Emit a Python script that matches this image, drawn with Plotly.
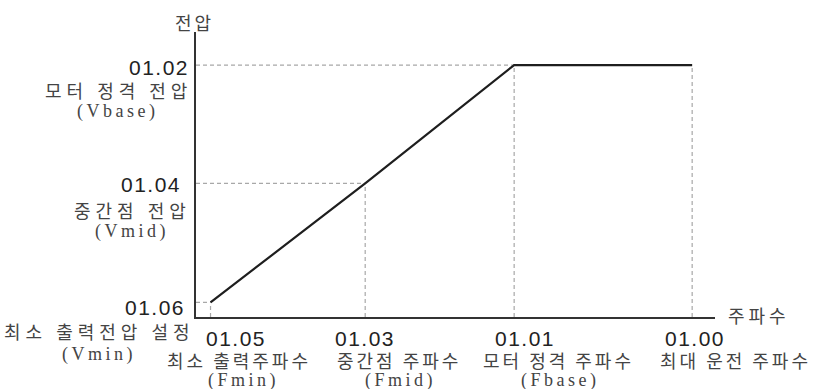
import plotly.graph_objects as go

# V/f curve break points (x: % of freq axis, y: % of voltage axis)
freq_points = [2.8, 32.6, 61.3, 95.6]      # Fmin, Fmid, Fbase, Fmax
volt_points = [5.1, 46.9, 88.4, 88.4]      # Vmin, Vmid, Vbase, Vbase

freq_codes = ["01.05", "01.03", "01.01", "01.00"]
freq_names = ["최소 출력주파수", "중간점 주파수", "모터 정격 주파수", "최대 운전 주파수"]
freq_abbr = ["(Fmin)", "(Fmid)", "(Fbase)", ""]

volt_levels = [88.4, 46.9, 5.1]            # Vbase, Vmid, Vmin
volt_codes = ["01.02", "01.04", "01.06"]
volt_names = ["모터 정격 전압", "중간점 전압", "최소 출력전압 설정"]
volt_abbr = ["(Vbase)", "(Vmid)", "(Vmin)"]

NUM_FONT = dict(family="Liberation Sans, Arial", size=21, color="#222222")
KR_FONT = dict(family="Noto Sans CJK KR", size=18, color="#444444")
SERIF_FONT = dict(family="Liberation Serif, Times New Roman", size=18, color="#444444")


def spaced(txt, px):
    return f'<span style="letter-spacing:{px}px">{txt}</span>'


fig = go.Figure()

# dashed guide lines
dash = dict(color="#a8a8a8", width=1.2, dash="4px,3px")
for f, v in zip(freq_points, volt_points):
    fig.add_trace(go.Scatter(x=[f, f], y=[0, v], mode="lines", line=dash,
                             hoverinfo="skip", showlegend=False))
for f, v in zip(freq_points[:3], volt_points[:3]):
    fig.add_trace(go.Scatter(x=[0, f], y=[v, v], mode="lines", line=dash,
                             hoverinfo="skip", showlegend=False))

# the V/f curve
fig.add_trace(go.Scatter(x=freq_points, y=volt_points, mode="lines",
                         line=dict(color="#1e1e1e", width=2.2),
                         showlegend=False))

anns = []
# frequency labels (below the x axis)
code_dx = [25, 0, 11, 3]
name_dx = [28, 33.5, 44.5, 43.5]
abbr_dx = [33, 35, 46, 0]
for i, f in enumerate(freq_points):
    anns.append(dict(x=f, xref="x", y=0, yref="paper", text=spaced(freq_codes[i], 1.5),
                     font=NUM_FONT, xshift=code_dx[i], yshift=-21, yanchor="middle"))
    anns.append(dict(x=f, xref="x", y=0, yref="paper", text=spaced(freq_names[i], 3),
                     font=KR_FONT, xshift=name_dx[i], yshift=-43, yanchor="middle"))
    if freq_abbr[i]:
        anns.append(dict(x=f, xref="x", y=0, yref="paper", text=spaced(freq_abbr[i], 3.5),
                         font=SERIF_FONT, xshift=abbr_dx[i], yshift=-63, yanchor="middle"))

# voltage labels (left of the y axis)
code_dx = [-5, -13, -9]
code_dy = [-2.5, -1, -5.5]
name_dx = [-78, -64, -97]
name_dy = [-25, -27, -28.5]
abbr_dx = [-79, -64.5, -97.5]
abbr_dy = [-46, -48, -52.5]
for i, v in enumerate(volt_levels):
    anns.append(dict(x=0, xref="paper", y=v, yref="y", text=spaced(volt_codes[i], 1.5),
                     font=NUM_FONT, xanchor="right", xshift=code_dx[i], yshift=code_dy[i],
                     yanchor="middle"))
    anns.append(dict(x=0, xref="paper", y=v, yref="y", text=spaced(volt_names[i], 5),
                     font=KR_FONT, xanchor="center", xshift=name_dx[i], yshift=name_dy[i],
                     yanchor="middle"))
    anns.append(dict(x=0, xref="paper", y=v, yref="y", text=spaced(volt_abbr[i], 3.5),
                     font=SERIF_FONT, xanchor="center", xshift=abbr_dx[i], yshift=abbr_dy[i],
                     yanchor="middle"))

# axis names
anns.append(dict(x=0, xref="paper", y=1, yref="paper", text=spaced("전압", 3), font=KR_FONT,
                 xanchor="center", xshift=-2, yanchor="middle", yshift=10))
anns.append(dict(x=1, xref="paper", y=0, yref="paper", text=spaced("주파수", 4), font=KR_FONT,
                 xanchor="left", xshift=11, yanchor="middle", yshift=2))

for a in anns:
    a["showarrow"] = False

fig.update_layout(
    width=816, height=389,
    margin=dict(l=196, r=101, t=32, b=72),
    plot_bgcolor="white", paper_bgcolor="white",
    annotations=anns,
    xaxis=dict(range=[0, 100], showgrid=False, zeroline=False, showticklabels=False,
               ticks="", showline=True, linecolor="#333333", linewidth=2, fixedrange=True),
    yaxis=dict(range=[0, 100], showgrid=False, zeroline=False, showticklabels=False,
               ticks="", showline=True, linecolor="#333333", linewidth=2, fixedrange=True),
)

# page body has an 8px default margin; drop it so the figure sits at the window corner
fig.write_html("out.html", config={"displayModeBar": False},
               post_script="document.body.style.margin='0';")
